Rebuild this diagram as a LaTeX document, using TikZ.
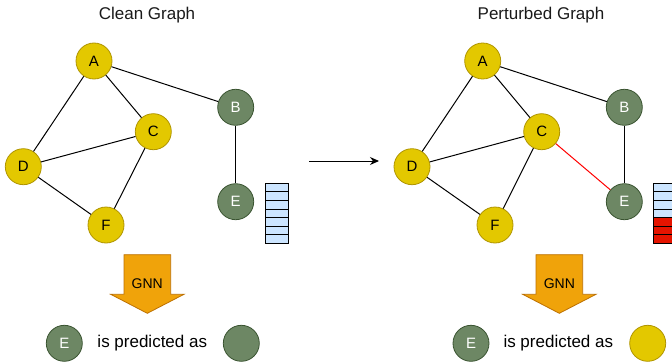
\documentclass[tikz,border=0pt]{standalone}
\usepackage{fontspec}
\setmainfont{Liberation Sans}
\usetikzlibrary{arrows.meta}
\definecolor{ylw}{HTML}{E3C800}
\definecolor{ylwd}{HTML}{B09500}
\definecolor{grn}{HTML}{6D8764}
\definecolor{grnd}{HTML}{3A5431}
\definecolor{org}{HTML}{F0A30A}
\definecolor{orgd}{HTML}{BD7000}
\definecolor{lb}{HTML}{CCE5FF}
\definecolor{rd}{HTML}{E51400}
\definecolor{rdd}{HTML}{B20000}
\definecolor{txt}{HTML}{1A1A1A}
\begin{document}
\begin{tikzpicture}[x=1pt,y=-1pt,
  yn/.style={circle,draw=ylwd,fill=ylw,minimum size=36pt,inner sep=0pt,line width=0.8pt,
    font=\fontsize{15}{15}\selectfont,text=black},
  gn/.style={circle,draw=grnd,fill=grn,minimum size=36pt,inner sep=0pt,line width=0.8pt,
    font=\fontsize{15}{15}\selectfont,text=white},
  edge/.style={line width=1pt,black},
  title/.style={font=\fontsize{17}{17}\selectfont,text=txt},
  lbl/.style={font=\fontsize{17}{17}\selectfont,text=black},
  cellb/.style={draw=black,fill=lb,line width=0.8pt},
  cellr/.style={draw=black,fill=rd,line width=0.8pt},
  gnnarrow/.style={draw=orgd,fill=org,line width=0.8pt},
  gnntxt/.style={font=\fontsize{14}{14}\selectfont,text=black}]
\useasboundingbox (0,0) rectangle (672,364);
\fill[white] (0,0) rectangle (672,364);

% titles
\node[title] (t1) at (147,15) {Clean Graph};
\node[title] (t2) at (541,15) {Perturbed Graph};

% clean graph
\node[yn] (A1) at (94,61) {A};
\node[gn] (B1) at (235.7,107.3) {B};
\node[yn] (C1) at (153.3,131.7) {C};
\node[yn] (D1) at (23.3,166.7) {D};
\node[gn] (E1) at (235.7,201.7) {E};
\node[yn] (F1) at (106,225) {F};
\draw[edge] (A1) -- (B1);
\draw[edge] (A1) -- (C1);
\draw[edge] (A1) -- (D1);
\draw[edge] (C1) -- (D1);
\draw[edge] (C1) -- (F1);
\draw[edge] (D1) -- (F1);
\draw[edge] (B1) -- (E1);

% clean feature vector
\foreach \i in {0,...,6} {
  \draw[cellb] (265.3,183.3+\i*8.571) rectangle (288.7,183.3+\i*8.571+8.571);
}

% middle arrow
\coordinate (m1) at (309.3,161);
\coordinate (m2) at (379,161);
\draw[edge,-{Stealth[length=9pt,width=8pt]}] (m1) -- (m2);

% perturbed graph
\node[yn] (A2) at (482.7,61) {A};
\node[gn] (B2) at (624.3,107.3) {B};
\node[yn] (C2) at (541.7,131.7) {C};
\node[yn] (D2) at (412,166.7) {D};
\node[gn] (E2) at (624.3,201.7) {E};
\node[yn] (F2) at (495,225) {F};
\draw[edge] (A2) -- (B2);
\draw[edge] (A2) -- (C2);
\draw[edge] (A2) -- (D2);
\draw[edge] (C2) -- (D2);
\draw[edge] (C2) -- (F2);
\draw[edge] (D2) -- (F2);
\draw[edge] (B2) -- (E2);
\draw[line width=1pt,red] (C2) -- (E2);

% perturbed feature vector
\foreach \i in {0,...,3} {
  \draw[cellb] (653.3,183.3+\i*8.571) rectangle (676.7,183.3+\i*8.571+8.571);
}
\foreach \i in {4,...,6} {
  \draw[cellr] (653.3,183.3+\i*8.571) rectangle (676.7,183.3+\i*8.571+8.571);
}

% GNN arrows
\draw[gnnarrow] (124,254.7) -- (170.7,254.7) -- (170.7,294.3) -- (184,294.3) -- (147.3,313.3)
  -- (110.7,294.3) -- (124,294.3) -- cycle;
\node[gnntxt] (g1) at (147.3,283.3) {GNN};
\draw[gnnarrow] (536,254.7) -- (582.7,254.7) -- (582.7,294.3) -- (596,294.3) -- (559.3,313.3)
  -- (522.7,294.3) -- (536,294.3) -- cycle;
\node[gnntxt] (g2) at (559.3,283.3) {GNN};

% predictions
\node[gn] (P1) at (64.3,343.3) {E};
\node[lbl] (L1) at (152.3,343.3) {is predicted as};
\node[gn] (Q1) at (241.3,343.3) {};
\node[gn] (P2) at (471,343.3) {E};
\node[lbl] (L2) at (558.3,343.3) {is predicted as};
\node[yn] (Q2) at (647.7,343.3) {};
\end{tikzpicture}
\end{document}
